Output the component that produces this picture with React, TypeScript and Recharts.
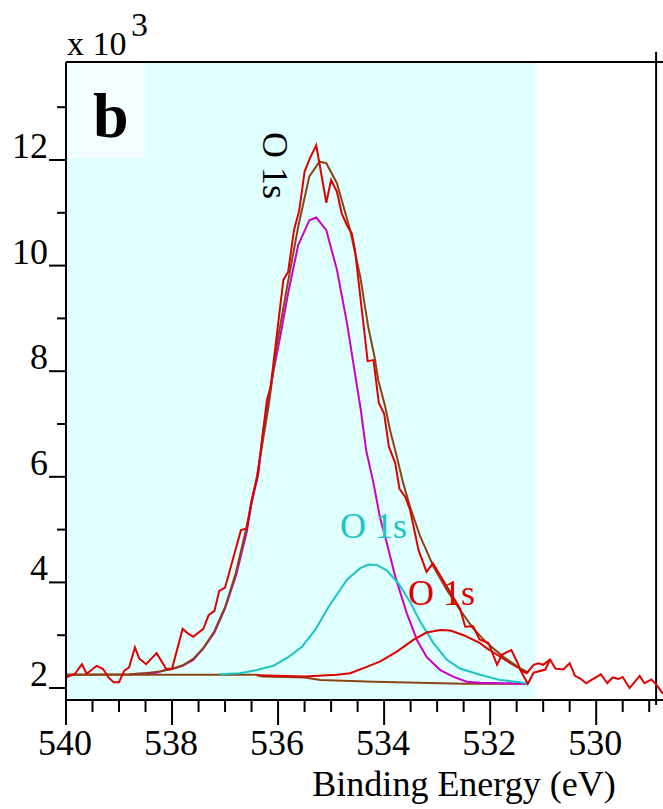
import { LineChart, Line, XAxis, YAxis, ReferenceArea, ReferenceLine } from "recharts";

// binding energy (eV) and intensity (x 10^3 counts)
const rawEnergy = [
  540.0, 539.83, 539.7, 539.61, 539.42, 539.3, 539.2, 539.1, 539.0, 538.9, 538.81, 538.7, 538.62,
  538.49, 538.29, 538.11, 538.0, 537.8, 537.71, 537.6, 537.41, 537.31, 537.2, 537.11, 537.0, 536.7,
  536.59, 536.5, 536.39, 536.21, 536.14, 535.9, 535.81, 535.7, 535.6, 535.5, 535.4, 535.28, 535.09,
  535.0, 534.89, 534.8, 534.69, 534.61, 534.55, 534.31, 534.2, 534.1, 534.0, 533.91, 533.79, 533.71,
  533.6, 533.51, 533.35, 533.2, 533.08, 532.57, 532.47, 532.32, 532.2, 532.03, 531.87, 531.78, 531.6,
  531.48, 531.43, 531.31, 531.18, 531.09, 531.0, 530.87, 530.77, 530.62, 530.5, 530.4, 530.3, 530.19,
  530.08, 529.91, 529.79, 529.69, 529.58, 529.5, 529.37, 529.18, 529.09, 528.96, 528.87, 528.74,
];
const rawCounts = [
  2.2, 2.27, 2.45, 2.27, 2.42, 2.36, 2.2, 2.11, 2.11, 2.33, 2.39, 2.77, 2.56,
  2.45, 2.66, 2.36, 2.37, 3.12, 3.04, 2.97, 3.12, 3.38, 3.46, 3.84, 3.9, 4.99,
  5.02, 5.56, 6.0, 7.45, 7.71, 9.73, 9.88, 10.67, 11.05, 11.78, 12.03, 12.28, 11.19,
  11.62, 11.4, 10.99, 10.74, 10.61, 10.3, 8.19, 8.21, 7.4, 7.2, 6.57, 6.26, 5.77,
  5.62, 5.37, 4.61, 4.2, 4.36, 3.51, 3.16, 3.17, 2.92, 2.85, 2.44, 2.63, 2.72,
  2.47, 2.34, 2.28, 2.44, 2.47, 2.44, 2.54, 2.37, 2.35, 2.47, 2.23, 2.18, 2.09,
  2.16, 2.26, 2.09, 2.2, 2.17, 2.21, 2.0, 2.23, 2.09, 2.16, 2.07, 1.89,
];

// second copy of the raw trace at the edge of the fit region
const rawEdgeEnergy = [531.43, 531.29, 531.18, 530.96, 530.87];
const rawEdgeCounts = [2.34, 2.08, 2.29, 2.35, 2.54];

const bgEnergy = [540.0, 536.4, 536.3, 535.5, 535.2, 534.2, 532.5, 531.29];
const bgCounts = [2.25, 2.25, 2.22, 2.2, 2.15, 2.12, 2.08, 2.08];

const peak1Energy = [
  538.8, 538.29, 538.13, 538.0, 537.8, 537.6, 537.41, 537.2, 537.0, 536.79, 536.59, 536.5, 536.37,
  536.28, 536.21, 536.12, 535.96, 535.81, 535.62, 535.41, 535.28, 535.09, 534.89, 534.7, 534.55,
  534.44, 534.34, 534.2, 534.08, 533.95, 533.79, 533.57, 533.38, 533.2, 532.94, 532.69, 532.44,
  532.19, 531.29,
];
const peak1Counts = [
  2.26, 2.29, 2.34, 2.36, 2.42, 2.53, 2.75, 3.05, 3.51, 4.14, 4.96, 5.5, 6.07,
  6.89, 7.27, 7.83, 8.65, 9.48, 10.39, 10.86, 10.91, 10.67, 9.92, 8.91, 7.96,
  7.27, 6.51, 5.88, 5.24, 4.75, 4.11, 3.41, 2.91, 2.59, 2.34, 2.21, 2.12,
  2.1, 2.08,
];

const peak2Energy = [
  537.1, 536.72, 536.4, 536.09, 535.8, 535.55, 535.3, 535.04, 534.7, 534.45, 534.29, 534.14, 533.95,
  533.73, 533.51, 533.32, 533.07, 532.82, 532.57, 532.19, 531.81, 531.43, 531.29,
];
const peak2Counts = [
  2.26, 2.28, 2.34, 2.42, 2.59, 2.78, 3.1, 3.55, 4.05, 4.27, 4.34, 4.33, 4.23,
  3.98, 3.63, 3.26, 2.85, 2.54, 2.37, 2.25, 2.15, 2.11, 2.08,
];

const peak3Energy = [
  536.4, 535.5, 534.89, 534.64, 534.33, 534.08, 533.76, 533.45, 533.2, 532.94, 532.75, 532.5, 532.19,
  532.06, 531.87, 531.62, 531.31,
];
const peak3Counts = [
  2.24, 2.22, 2.25, 2.28, 2.4, 2.5, 2.69, 2.91, 3.05, 3.1, 3.09, 3.0, 2.85,
  2.75, 2.63, 2.47, 2.29,
];

const envEnergy = [
  540.0, 538.8, 538.5, 538.2, 538.0, 537.8, 537.6, 537.4, 537.2, 537.0, 536.8, 536.6, 536.4,
  536.18, 536.03, 535.84, 535.62, 535.41, 535.22, 535.09, 534.89, 534.64, 534.45, 534.3, 534.18,
  534.11, 533.98, 533.89, 533.76, 533.64, 533.51, 533.32, 533.19, 533.07, 532.82, 532.57, 532.32,
  532.06, 531.75, 531.43, 531.28,
];
const envCounts = [
  2.25, 2.26, 2.28, 2.32, 2.36, 2.43, 2.55, 2.77, 3.08, 3.53, 4.17, 5.02, 6.0,
  7.33, 8.46, 9.54, 10.74, 11.69, 11.97, 11.94, 11.56, 10.67, 9.79, 8.84, 8.27,
  7.83, 7.33, 6.89, 6.38, 5.88, 5.43, 4.87, 4.58, 4.3, 3.86, 3.48, 3.13,
  2.85, 2.59, 2.37, 2.29,
];

const xTicks = [540, 539.5, 539, 538.5, 538, 537.5, 537, 536.5, 536, 535.5, 535, 534.5, 534, 533.5, 533, 532.5, 532, 531.5, 531, 530.5, 530, 529.5, 529];
const yTicks = [2, 3, 4, 5, 6, 7, 8, 9, 10, 11, 12, 13];

const FONT = "'Liberation Serif', 'Times New Roman', serif";

const pairs = (e: number[], v: number[]) => e.map((x, i) => ({ e: x, v: v[i] }));

function XTick({ x, y, payload }: any) {
  const val = payload.value;
  const major = Math.abs(val % 2) < 1e-6;
  return (
    <g>
      <line x1={x} x2={x} y1={y} y2={y + (major ? 25 : 12)} stroke="#000" strokeWidth={2} />
      {major && (
        <text x={x - 1} y={y + 55} textAnchor="middle" fontSize={36} fontFamily={FONT} fill="#000">
          {val}
        </text>
      )}
    </g>
  );
}

function YTick({ x, y, payload }: any) {
  const val = payload.value;
  const major = val % 2 === 0;
  return (
    <g>
      <line x1={x - (major ? 17 : 9)} x2={x} y1={y} y2={y} stroke="#000" strokeWidth={2} />
      {major && (
        <text x={x - 18} y={y - 2} textAnchor="end" fontSize={36} fontFamily={FONT} fill="#000">
          {val}
        </text>
      )}
    </g>
  );
}

export default function App() {
  return (
    <div style={{ position: "absolute", left: 0, top: 0, width: 663, height: 809, background: "#fff" }}>
      <LineChart width={663} height={809} margin={{ top: 62, right: 0, bottom: 0, left: 0 }}>
        <XAxis
          type="number"
          dataKey="e"
          domain={[528.74, 540]}
          reversed
          allowDataOverflow
          ticks={xTicks}
          interval={0}
          tickSize={0}
          tickMargin={0}
          tickLine={false}
          axisLine={{ stroke: "#000", strokeWidth: 2 }}
          tick={(p: any) => <XTick {...p} />}
          height={109}
        />
        <YAxis
          type="number"
          dataKey="v"
          domain={[1.773, 13.856]}
          allowDataOverflow
          ticks={yTicks}
          interval={0}
          tickSize={0}
          tickMargin={0}
          tickLine={false}
          axisLine={{ stroke: "#000", strokeWidth: 2 }}
          tick={(p: any) => <YTick {...p} />}
          width={66}
        />
        <ReferenceArea x1={540} x2={531.15} fill="#e0ffff" fillOpacity={1} stroke="none" ifOverflow="visible" />
        <ReferenceArea x1={540} x2={538.51} y1={12.04} y2={13.856} fill="#f3ffff" fillOpacity={1} stroke="none" ifOverflow="visible" />
        <ReferenceLine y={13.856} stroke="#000" strokeWidth={2} ifOverflow="visible" />
        <ReferenceLine
          segment={[{ x: 528.87, y: 1.68 }, { x: 528.87, y: 14.05 }]}
          stroke="#000"
          strokeWidth={2}
          ifOverflow="visible"
        />

        <Line data={pairs(bgEnergy, bgCounts)} dataKey="v" type="linear" stroke="#8b4513" strokeWidth={2} dot={false} isAnimationActive={false} />
        <Line data={pairs(peak1Energy, peak1Counts)} dataKey="v" type="linear" stroke="#cc00cc" strokeWidth={2} dot={false} isAnimationActive={false} />
        <Line data={pairs(peak2Energy, peak2Counts)} dataKey="v" type="linear" stroke="#1cc4c4" strokeWidth={2} dot={false} isAnimationActive={false} />
        <Line data={pairs(peak3Energy, peak3Counts)} dataKey="v" type="linear" stroke="#dd0000" strokeWidth={2} dot={false} isAnimationActive={false} />
        <Line data={pairs(envEnergy, envCounts)} dataKey="v" type="linear" stroke="#8b4513" strokeWidth={2} dot={false} isAnimationActive={false} />
        <Line data={pairs(rawEdgeEnergy, rawEdgeCounts)} dataKey="v" type="linear" stroke="#e00000" strokeWidth={2} dot={false} isAnimationActive={false} />
        <Line data={pairs(rawEnergy, rawCounts)} dataKey="v" type="linear" stroke="#e00000" strokeWidth={2} dot={false} isAnimationActive={false} />
      </LineChart>

      <svg width={663} height={809} style={{ position: "absolute", left: 0, top: 0, pointerEvents: "none" }}>
        <text x={67} y={55} fontSize={34} fontFamily={FONT} fill="#000">x 10</text>
        <text x={131} y={36} fontSize={34} fontFamily={FONT} fill="#000">3</text>
        <text x={93} y={137} fontSize={64} fontWeight="bold" fontFamily={FONT} fill="#000">b</text>
        <text x={263} y={132} fontSize={36} fontFamily={FONT} fill="#000" transform="rotate(90 263 132)">O 1s</text>
        <text x={340} y={538} fontSize={36} fontFamily={FONT} fill="#1cc4c4">O 1s</text>
        <text x={408} y={605} fontSize={36} fontFamily={FONT} fill="#dd0000">O 1s</text>
        <text x={464} y={796} textAnchor="middle" fontSize={36} fontFamily={FONT} fill="#000">Binding Energy (eV)</text>
      </svg>
    </div>
  );
}
